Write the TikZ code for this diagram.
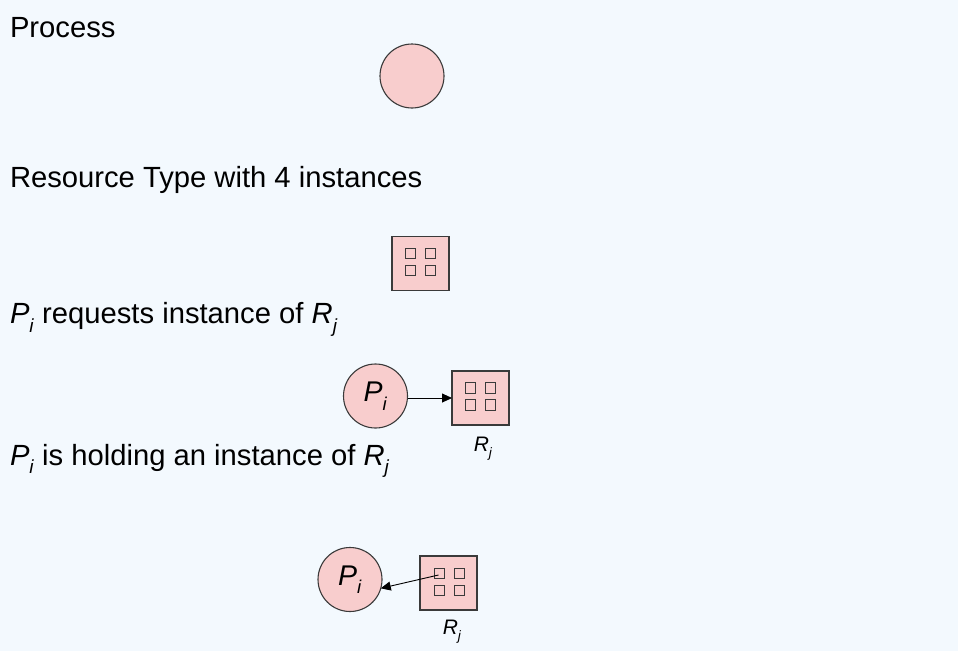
\documentclass[tikz,border=0pt]{standalone}
\usepackage{fontspec}
\setmainfont{Liberation Sans}
\usetikzlibrary{arrows.meta}
\definecolor{bg}{HTML}{F3F9FE}
\definecolor{pinkfill}{HTML}{F8CDCD}
\definecolor{edgegray}{HTML}{3A3A3A}
\newcommand{\lowsub}[1]{\raisebox{-0.3em}{\scalebox{0.65}{\textit{#1}}}}
\newcommand{\PI}{\textit{P}\lowsub{i}}
\newcommand{\RJ}{\textit{R}\lowsub{j}}
\begin{document}
\begin{tikzpicture}[x=1pt,y=-1pt,
  every node/.style={inner sep=0pt, outer sep=0pt},
  bigtext/.style={anchor=base west, font=\fontsize{29.2}{34}\selectfont},
  proc/.style={circle, draw=edgegray, line width=1.1pt, fill=pinkfill, minimum size=64pt, font=\fontsize{28.5}{34}\selectfont},
  res/.style={rectangle, draw=edgegray, line width=1.1pt, fill=pinkfill, minimum width=57pt, minimum height=54pt},
  inst/.style={rectangle, draw=edgegray, line width=1.4pt, minimum size=10.5pt},
  rlabel/.style={font=\fontsize{21}{24}\selectfont},
  arr/.style={-{Triangle[length=10pt,width=9pt]}, line width=0.9pt, black}]
\useasboundingbox[fill=bg] (0,0) rectangle (958,651);

% texts
\node[bigtext] (t1) at (10,37) {Process};
\node[bigtext] (t2) at (10,187) {Resource Type with 4 instances};
\node[bigtext] (t3) at (10,323.5) {\PI{} requests instance of \RJ};
\node[bigtext] (t4) at (10,465) {\PI{} is holding an instance of \RJ};

% process
\node[proc] (p0) at (412,76) {};

% resource type
\node[res] (r0) at (420.5,263.5) {};
\node[inst] (r0a) at ([shift={(-10,-10)}]r0.center) {};
\node[inst] (r0b) at ([shift={(10,-10)}]r0.center) {};
\node[inst] (r0c) at ([shift={(-10,7)}]r0.center) {};
\node[inst] (r0d) at ([shift={(10,7)}]r0.center) {};

% request
\node[proc] (p2) at (375.5,396) {\PI};
\node[res] (r2) at (480.5,398) {};
\node[inst] (r2a) at ([shift={(-10,-10)}]r2.center) {};
\node[inst] (r2b) at ([shift={(10,-10)}]r2.center) {};
\node[inst] (r2c) at ([shift={(-10,7)}]r2.center) {};
\node[inst] (r2d) at ([shift={(10,7)}]r2.center) {};
\node[rlabel, anchor=base] (l2) at (483,451) {\RJ};
\draw[arr] (p2.east |- r2.west) -- (r2.west);

% holding
\node[proc] (p3) at (350,579.5) {\PI};
\node[res] (r3) at (448.5,583) {};
\node[inst] (r3a) at ([shift={(-9,-9.5)}]r3.center) {};
\node[inst] (r3b) at ([shift={(11,-9.5)}]r3.center) {};
\node[inst] (r3c) at ([shift={(-9,7.5)}]r3.center) {};
\node[inst] (r3d) at ([shift={(11,7.5)}]r3.center) {};
\node[rlabel, anchor=base] (l3) at (452,634) {\RJ};
\draw[arr] ([shift={(-1,1.5)}]r3a.center) -- (p3.-16);
\end{tikzpicture}
\end{document}
